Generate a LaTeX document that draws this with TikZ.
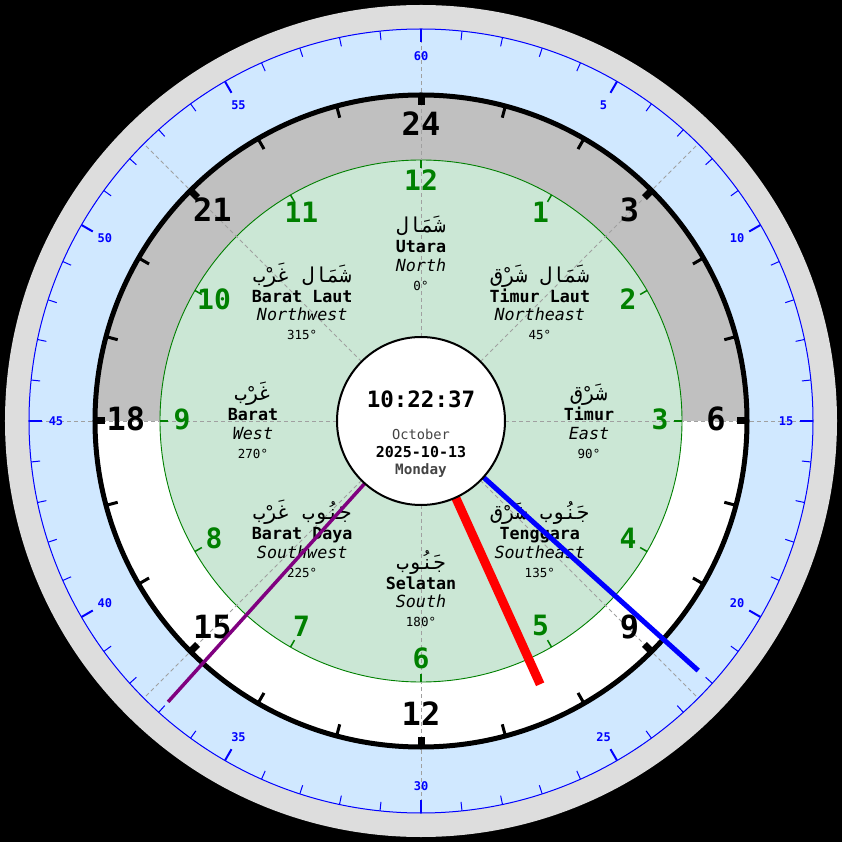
\documentclass[tikz,border=0pt]{standalone}
\usepackage{fontspec}
\usetikzlibrary{calc}
\setmonofont{DejaVu Sans Mono}
\newfontfamily\arabfont[Script=Arabic]{DejaVu Sans Mono}
\TeXXeTstate=1
\definecolor{outerring}{RGB}{221,221,221}
\definecolor{lightblue}{RGB}{208,232,255}
\definecolor{graycol}{RGB}{192,192,192}
\definecolor{greenfill}{RGB}{203,231,213}
\definecolor{dkgreen}{RGB}{0,128,0}
\definecolor{dashgray}{RGB}{160,160,160}
\definecolor{txtgray}{RGB}{68,68,68}
\definecolor{purplehand}{RGB}{128,0,128}
\tikzset{
  dashln/.style={draw=dashgray,line width=0.9pt,dash pattern=on 4pt off 3pt},
  minmaj/.style={draw=blue,line width=2pt},
  minmin/.style={draw=blue,line width=1pt},
  hrmaj/.style={draw=black,line width=7pt},
  hrmin/.style={draw=black,line width=3pt},
  gtick/.style={draw=dkgreen,line width=1.5pt},
  minlbl/.style={inner sep=0pt,text=blue,font=\ttfamily\bfseries\fontsize{12}{13}\selectfont},
  hourlbl/.style={inner sep=0pt,yshift=2.5pt,text=black,font=\ttfamily\bfseries\fontsize{32}{34}\selectfont},
  greenlbl/.style={inner sep=0pt,yshift=2pt,text=dkgreen,font=\ttfamily\bfseries\fontsize{28}{29}\selectfont},
  arabtxt/.style={inner sep=0pt,anchor=base,font=\arabfont\fontsize{20.5}{21}\selectfont},
  idtxt/.style={inner sep=0pt,anchor=base,font=\ttfamily\bfseries\fontsize{16.7}{17}\selectfont},
  entxt/.style={inner sep=0pt,anchor=base,font=\ttfamily\itshape\fontsize{16.7}{17}\selectfont},
  degtxt/.style={inner sep=0pt,anchor=base,font=\ttfamily\fontsize{12.5}{13}\selectfont},
  hourhand/.style={draw=red,line width=9pt},
  minhand/.style={draw=blue,line width=5pt},
  sechand/.style={draw=purplehand,line width=3.5pt},
  ctext/.style={inner sep=0pt,anchor=base}
}
\newcommand\dirgroup[6]{%
  \coordinate (p#1) at ({90-#2}:168);
  \node[arabtxt] (ar#1) at ($(p#1)+(0,20)$) {#3};
  \node[idtxt] (id#1) at (p#1) {#4};
  \node[entxt] (en#1) at ($(p#1)+(0,-18.5)$) {#5};
  \node[degtxt] (dg#1) at ($(p#1)+(0,-37.5)$) {#6};
}
\begin{document}
\begin{tikzpicture}[x=1pt,y=1pt]
\fill[black] (-421,-421) rectangle (421,421);
\useasboundingbox (-421,-421) rectangle (421,421);
\coordinate (c) at (0,0);
% rings
\fill[outerring] (c) circle (416);
\filldraw[fill=lightblue,draw=blue,line width=1pt] (c) circle (392);
\fill[white] (c) circle (326);
\fill[graycol] (-326,0) arc (180:0:326) -- cycle;
\filldraw[fill=greenfill,draw=dkgreen,line width=0.9pt] (c) circle (261);
% dashed direction lines
\foreach \a in {0,45,...,315} \draw[dashln] (c) -- (\a:392);
% black ring
\draw[line width=5pt] (c) circle (326);
% minute ticks
\foreach \m in {0,...,59}{
  \pgfmathtruncatemacro\rr{mod(\m,5)}
  \ifnum\rr=0
    \draw[minmaj] ({90-6*\m}:392) -- ({90-6*\m}:379);
  \else
    \draw[minmin] ({90-6*\m}:392) -- ({90-6*\m}:383);
  \fi
}
\foreach \m in {0,5,...,55}{
  \pgfmathtruncatemacro\t{ifthenelse(\m==0,60,\m)}
  \node[minlbl] (m\m) at ({90-6*\m}:365) {\t};
}
% hour ticks
\foreach \h in {0,...,23}{
  \pgfmathtruncatemacro\rr{mod(\h,3)}
  \ifnum\rr=0
    \draw[hrmaj] ({90-15*\h}:328) -- ({90-15*\h}:316);
  \else
    \draw[hrmin] ({90-15*\h}:326) -- ({90-15*\h}:314);
  \fi
}
\foreach \h in {0,3,...,21}{
  \pgfmathtruncatemacro\t{ifthenelse(\h==0,24,\h)}
  \node[hourlbl] (h\h) at ({90-15*\h}:295) {\t};
}
% green 12h dial
\foreach \k in {0,...,11}{
  \draw[gtick] ({90-30*\k}:261) -- ({90-30*\k}:253);
  \pgfmathtruncatemacro\t{ifthenelse(\k==0,12,\k)}
  \node[greenlbl] (g\k) at ({90-30*\k}:239) {\t};
}
% compass directions
\dirgroup{n}{0}{\beginR شَمَال\endR}{Utara}{North}{0°}
\dirgroup{ne}{45}{\beginR شَمَال شَرْق\endR}{Timur Laut}{Northeast}{45°}
\dirgroup{e}{90}{\beginR شَرْق\endR}{Timur}{East}{90°}
\dirgroup{se}{135}{\beginR جَنُوب شَرْق\endR}{Tenggara}{Southeast}{135°}
\dirgroup{s}{180}{\beginR جَنُوب\endR}{Selatan}{South}{180°}
\dirgroup{sw}{225}{\beginR جَنُوب غَرْب\endR}{Barat Daya}{Southwest}{225°}
\dirgroup{w}{270}{\beginR غَرْب\endR}{Barat}{West}{270°}
\dirgroup{nw}{315}{\beginR شَمَال غَرْب\endR}{Barat Laut}{Northwest}{315°}
% hands
\coordinate (hourtip) at (-65.65:289);
\coordinate (mintip) at (-42:373);
\coordinate (sectip) at (-132:378);
\draw[hourhand] (c) -- (hourtip);
\draw[minhand] (c) -- (mintip);
\draw[sechand] (c) -- (sectip);
% center
\filldraw[fill=white,draw=black,line width=2pt] (c) circle (84);
\node[ctext,font=\ttfamily\bfseries\fontsize{22.5}{23}\selectfont] (time) at (0,13) {10:22:37};
\node[ctext,text=txtgray,font=\ttfamily\fontsize{13.7}{14}\selectfont] (month) at (0,-19) {October};
\node[ctext,font=\ttfamily\bfseries\fontsize{15}{16}\selectfont] (date) at (0,-37) {2025-10-13};
\node[ctext,text=txtgray,font=\ttfamily\bfseries\fontsize{14.3}{15}\selectfont] (day) at (0,-54) {Monday};
\end{tikzpicture}
\end{document}
